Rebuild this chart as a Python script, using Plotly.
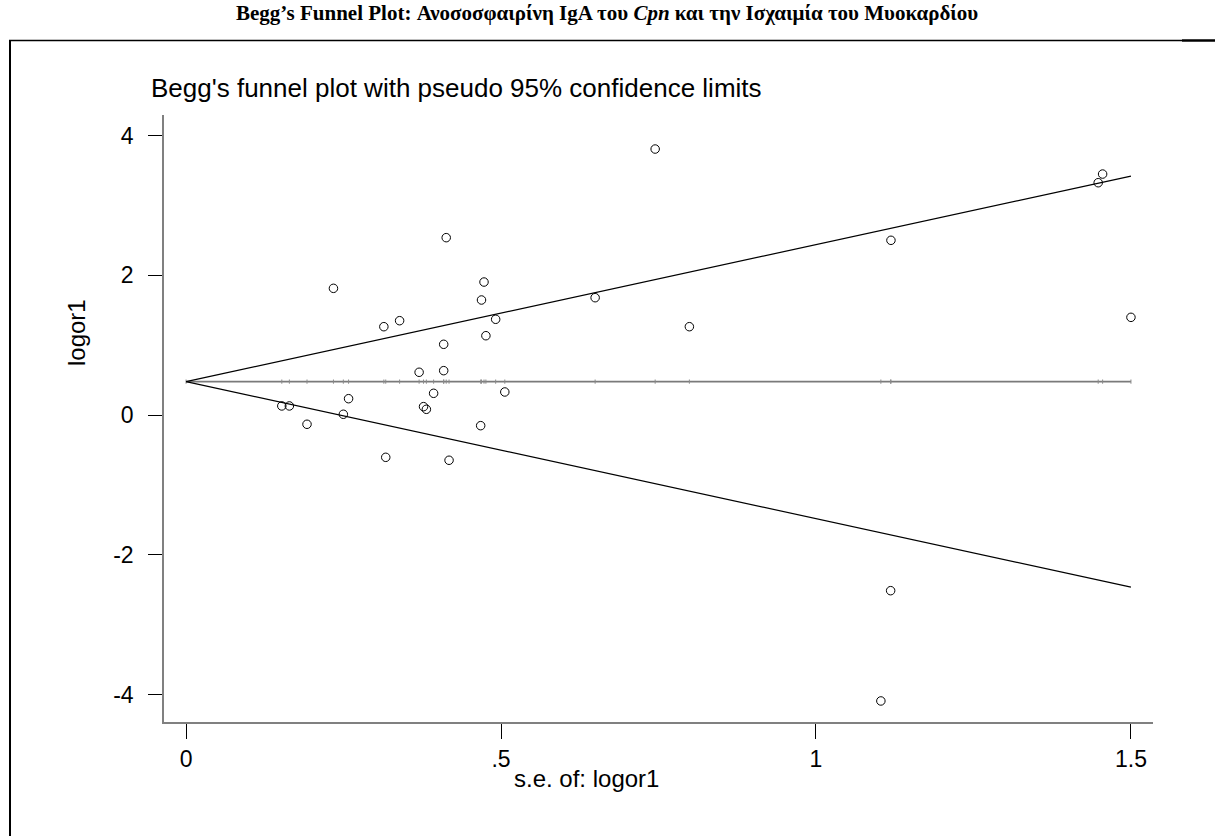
import plotly.graph_objects as go

# ---- data ----
se = [0.413, 0.234, 0.473, 0.469, 0.4915, 0.339, 0.314, 0.476, 0.409, 0.409,
      0.370, 0.506, 0.393, 0.258, 0.152, 0.164, 0.377, 0.3815, 0.2497, 0.192,
      0.4677, 0.317, 0.4175, 0.7447, 0.6494, 0.799, 1.119, 1.448, 1.455, 1.500,
      1.1185, 1.103]
logor = [2.54, 1.815, 1.905, 1.648, 1.372, 1.352, 1.266, 1.137, 1.014, 0.637,
         0.614, 0.332, 0.313, 0.236, 0.132, 0.132, 0.122, 0.084, 0.013, -0.130,
         -0.150, -0.603, -0.645, 3.808, 1.681, 1.266, 2.502, 3.326, 3.45, 1.40,
         -2.511, -4.089]
pooled = 0.48
z = 1.96
x_ticks = [0, 0.5, 1, 1.5]
x_ticklabels = ["0", ".5", "1", "1.5"]
y_ticks = [-4, -2, 0, 2, 4]
y_ticklabels = ["-4", "-2", "0", "2", "4"]

W, H = 1215, 836
L, R, T, B = 164, 1153, 115, 722

fx = [0.0] + sorted(se)
upper = [pooled + z * s for s in fx]
lower = [pooled - z * s for s in fx]
mid = [pooled for s in fx]

fig = go.Figure()
fig.add_trace(go.Scatter(x=fx, y=mid, mode="lines+markers",
                         line=dict(color="#7a7a7a", width=1.6),
                         marker=dict(symbol="line-ns", size=3,
                                     line=dict(color="#8a8a8a", width=1)),
                         hoverinfo="skip", showlegend=False))
fig.add_trace(go.Scatter(x=fx, y=upper, mode="lines",
                         line=dict(color="black", width=1.2),
                         hoverinfo="skip", showlegend=False))
fig.add_trace(go.Scatter(x=fx, y=lower, mode="lines",
                         line=dict(color="black", width=1.2),
                         hoverinfo="skip", showlegend=False))
fig.add_trace(go.Scatter(x=se, y=logor, mode="markers",
                         marker=dict(symbol="circle-open", size=8.5,
                                     color="black", line=dict(width=1)),
                         showlegend=False))

def px_x(p):
    return (p - L) / (R - L)

def px_y(p):
    return (B - p) / (B - T)

tick_font = dict(family="Liberation Sans, Arial, sans-serif", size=23, color="black")
title_font = dict(family="Liberation Sans, Arial, sans-serif", size=24, color="black")

fig.update_layout(
    width=W, height=H,
    margin=dict(l=L, r=W - R, t=T, b=H - B, pad=0),
    paper_bgcolor="white", plot_bgcolor="white",
    showlegend=False,
    xaxis=dict(range=[-0.035, 1.535], showgrid=False, zeroline=False,
               showline=True, linecolor="#808080", linewidth=1.6,
               ticks="outside", ticklen=15, tickwidth=1, tickcolor="black",
               tickvals=x_ticks, ticktext=x_ticklabels, tickfont=tick_font,
               ticklabelstandoff=1),
    yaxis=dict(range=[-4.39, 4.295], showgrid=False, zeroline=False,
               showline=True, linecolor="#808080", linewidth=1.6,
               ticks="outside", ticklen=14, tickwidth=1, tickcolor="black",
               tickvals=y_ticks, ticktext=y_ticklabels, tickfont=tick_font,
               ticklabelstandoff=10),
)

annotations = [
    dict(text="<b>Begg’s Funnel Plot: Ανοσοσφαιρίνη IgA του <i>Cpn</i> και την Ισχαιμία του Μυοκαρδίου</b>",
         x=px_x(607), y=px_y(13), xref="paper", yref="paper",
         xanchor="center", yanchor="middle", showarrow=False,
         font=dict(family="Liberation Serif, Times New Roman, serif", size=21, color="black")),
    dict(text="Begg's funnel plot with pseudo 95% confidence limits",
         x=px_x(149), y=px_y(88), xref="paper", yref="paper",
         xanchor="left", yanchor="middle", showarrow=False,
         font=dict(family="Liberation Sans, Arial, sans-serif", size=26, color="black")),
    dict(text="logor1", textangle=-90,
         x=px_x(76), y=px_y(333), xref="paper", yref="paper",
         xanchor="center", yanchor="middle", showarrow=False,
         font=title_font),
    dict(text="s.e. of: logor1",
         x=px_x(586), y=px_y(778), xref="paper", yref="paper",
         xanchor="center", yanchor="middle", showarrow=False,
         font=title_font),
]
fig.update_layout(annotations=annotations)

shapes = [
    dict(type="line", xref="paper", yref="paper",
         x0=px_x(9), x1=px_x(1182), y0=px_y(40.5), y1=px_y(40.5),
         line=dict(color="black", width=1.5)),
    dict(type="line", xref="paper", yref="paper",
         x0=px_x(1182), x1=px_x(1215), y0=px_y(40.5), y1=px_y(40.5),
         line=dict(color="black", width=2.5)),
    dict(type="line", xref="paper", yref="paper",
         x0=px_x(10), x1=px_x(10), y0=px_y(40), y1=px_y(836),
         line=dict(color="black", width=2)),
]
fig.update_layout(shapes=shapes)

fig.write_html("out.html")
